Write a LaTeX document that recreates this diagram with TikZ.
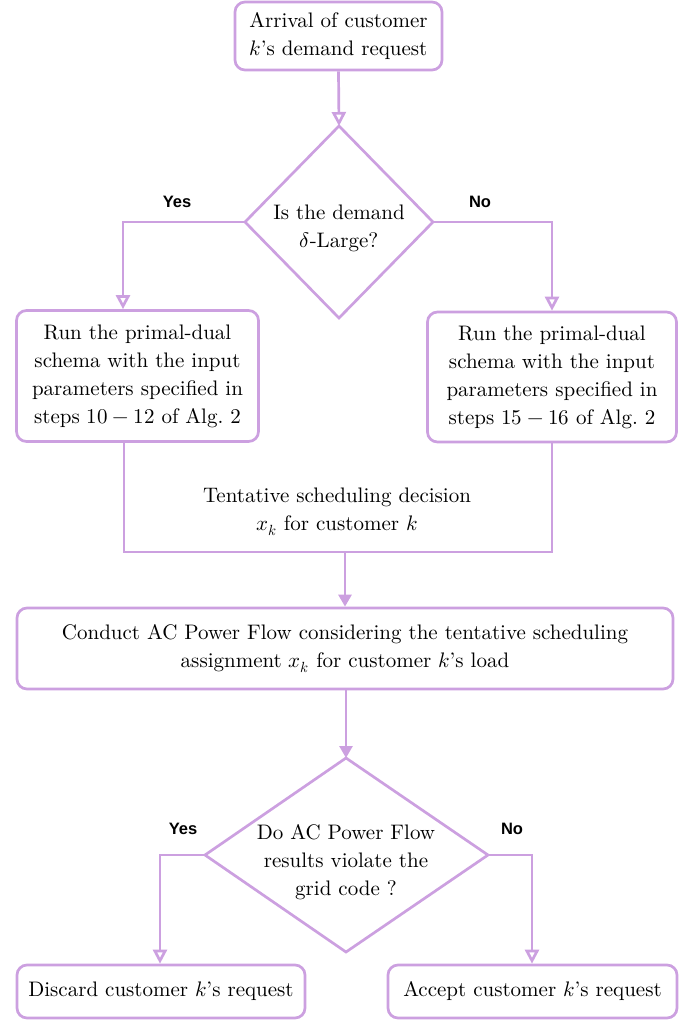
\documentclass[tikz,border=0pt]{standalone}
\usepackage{fontspec}
\usepackage{unicode-math}
\setmainfont{lmroman10-regular.otf}[ItalicFont=lmroman10-italic.otf, BoldFont=lmroman10-bold.otf]
\setmathfont{Latin Modern Math}
\newfontfamily\labelfont{Liberation Sans}
\usetikzlibrary{arrows.meta,shapes.geometric}
\definecolor{flowpurple}{RGB}{204,160,224}
\begin{document}
\begin{tikzpicture}[x=1pt,y=-1pt,
  every node/.style={font=\fontsize{21}{28}\selectfont, text=black},
  rbox/.style={draw=flowpurple, line width=2.7pt, rounded corners=10pt, fill=white, align=center, inner sep=0pt},
  conn/.style={draw=flowpurple, line width=2.7pt},
  openarrow/.style={conn, -{Triangle[open, length=14pt, width=14pt]}},
  fillarrow/.style={conn, -{Triangle[length=12pt, width=13pt]}},
  yesno/.style={font=\labelfont\bfseries\fontsize{16.5}{18}\selectfont}
]
\useasboundingbox (0,0) rectangle (690,1020);

% top box
\node[rbox, minimum width=207pt, minimum height=68pt] (start) at (338.5,36) {Arrival of customer\\ $k$'s demand request};

% decision 1
\coordinate (d1t) at (339,126);
\coordinate (d1b) at (339,318);
\coordinate (d1l) at (245,222);
\coordinate (d1r) at (433,222);
\draw[conn, line join=miter] (d1t) -- (d1r) -- (d1b) -- (d1l) -- cycle;
\node[align=center] (q1) at (339,228) {Is the demand\\ $\delta$-Large?};

% side boxes
\node[rbox, minimum width=242pt, minimum height=131pt] (left) at (137.5,376) {Run the primal-dual\\ schema with the input\\ parameters specified in\\ steps $10-12$ of Alg.\ 2};
\node[rbox, minimum width=249pt, minimum height=130pt] (right) at (552,377) {Run the primal-dual\\ schema with the input\\ parameters specified in\\ steps $15-16$ of Alg.\ 2};

\coordinate (lturn) at (123,222);
\coordinate (rturn) at (552,222);
\draw[openarrow] (start.south) -- (d1t);
\draw[openarrow] (d1l) -- (lturn) -- (lturn |- left.north);
\draw[openarrow] (d1r) -- (rturn) -- (right.north);
\node[yesno] (yes1) at (177,202) {Yes};
\node[yesno] (no1) at (480,202) {No};

% merge frame
\coordinate (mlt) at (124,441);
\coordinate (mlb) at (124,552);
\coordinate (mrb) at (552,552);
\coordinate (mrt) at (552,441);
\coordinate (mmid) at (345,552);
\draw[conn, line join=miter] (left.south -| mlt) -- (mlb) -- (mrb) -- (right.south -| mrt);
\node[align=center] (tent) at (337,512) {Tentative scheduling decision\\ $x_k$ for customer $k$};

% AC power flow box
\node[rbox, minimum width=656pt, minimum height=81pt] (acpf) at (345,648.5) {Conduct AC Power Flow considering the tentative scheduling\\ assignment $x_k$ for customer $k$'s load};
\draw[fillarrow] (mmid) -- (mmid |- acpf.north);

% decision 2
\coordinate (d2t) at (346,758);
\coordinate (d2b) at (346,952);
\coordinate (d2l) at (205,855);
\coordinate (d2r) at (488,855);
\draw[conn, line join=miter] (d2t) -- (d2r) -- (d2b) -- (d2l) -- cycle;
\node[align=center] (q2) at (346,862) {Do AC Power Flow\\ results violate the\\ grid code ?};
\draw[fillarrow] (acpf.south -| d2t) -- (d2t);

% final boxes
\node[rbox, minimum width=288pt, minimum height=53pt] (discard) at (161,991.5) {Discard customer $k$'s request};
\node[rbox, minimum width=289pt, minimum height=53pt] (accept) at (532.5,991.5) {Accept customer $k$'s request};
\coordinate (l2turn) at (160,855);
\coordinate (r2turn) at (532,855);
\draw[openarrow] (d2l) -- (l2turn) -- (l2turn |- discard.north);
\draw[openarrow] (d2r) -- (r2turn) -- (r2turn |- accept.north);
\node[yesno] (yes2) at (183,829) {Yes};
\node[yesno] (no2) at (512,829) {No};
\end{tikzpicture}
\end{document}
